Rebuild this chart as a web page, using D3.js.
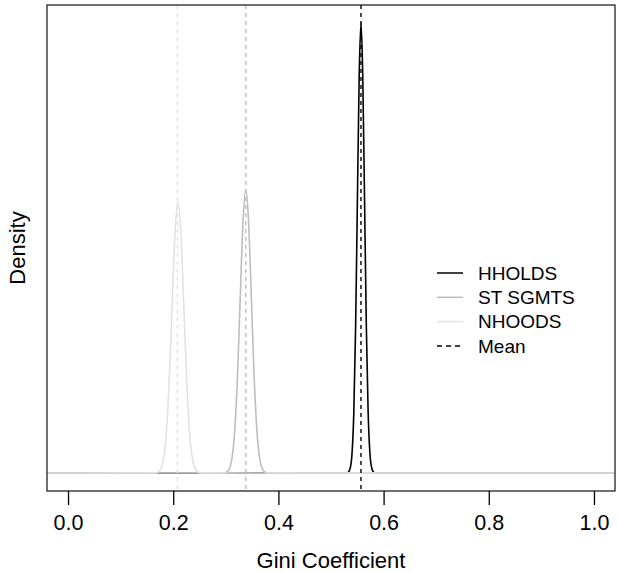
<!DOCTYPE html>
<html>
<head>
  <meta charset="utf-8">
  <title>Gini Coefficient Density</title>
  <script src="https://d3js.org/d3.v7.min.js"></script>
  <style>
    body { margin: 0; background: #fff; font-family: 'Liberation Sans', Arial, sans-serif; }
    .tick text { font-size: 21.5px; fill: #000; }
    .tick line { stroke: #000; }
    .lbl { font-size: 22px; fill: #000; }
    .leg { font-size: 19px; fill: #000; }
  </style>
</head>
<body>
  <div id="chart"></div>
  <script>
    // series (density estimates)
    var hholdsX = [0.5298, 0.5332, 0.5366, 0.5400, 0.5434, 0.5468, 0.5502, 0.5536, 0.5570,
                   0.5604, 0.5638, 0.5672, 0.5706, 0.5740, 0.5774, 0.5808, 0.5842];
    var hholdsY = [0.02, 0.13, 0.65, 2.57, 7.93, 19.03, 35.54, 51.71, 58.6,
                   51.71, 35.54, 19.03, 7.93, 2.57, 0.65, 0.13, 0.02];
    var stX = [0.2948, 0.3002, 0.3056, 0.3110, 0.3164, 0.3218, 0.3272, 0.3326, 0.3380,
               0.3434, 0.3488, 0.3542, 0.3596, 0.3650, 0.3704, 0.3758, 0.3812];
    var stY = [0.01, 0.08, 0.41, 1.62, 4.99, 11.98, 22.38, 32.56, 36.9,
               32.56, 22.38, 11.98, 4.99, 1.62, 0.41, 0.08, 0.01];
    var nhX = [0.1638, 0.1694, 0.1751, 0.1807, 0.1864, 0.1920, 0.1977, 0.2034, 0.2090,
               0.2147, 0.2203, 0.2260, 0.2316, 0.2373, 0.2429, 0.2486, 0.2542];
    var nhY = [0.01, 0.08, 0.39, 1.55, 4.78, 11.46, 21.41, 31.15, 35.3,
               31.15, 21.41, 11.46, 4.78, 1.55, 0.39, 0.08, 0.01];
    var seriesNames = ["HHOLDS", "ST SGMTS", "NHOODS"];
    var seriesMeans = [0.557, 0.338, 0.208];
    var seriesColors = ["#000000", "#bdbdbd", "#e2e2e2"];
    var xTicks = [0, 0.2, 0.4, 0.6, 0.8, 1.0];

    var W = 618, H = 573;
    var box = {left: 47, top: 5, right: 615, bottom: 491};

    var svg = d3.select("#chart").append("svg")
      .attr("width", W).attr("height", H);

    var x = d3.scaleLinear().domain([-0.04, 1.04]).range([box.left, box.right]);
    var yMax = d3.max(hholdsY);
    var y = d3.scaleLinear().domain([-0.04 * yMax, 1.04 * yMax]).range([box.bottom, box.top]);

    svg.append("clipPath").attr("id", "clip")
      .append("rect")
      .attr("x", box.left).attr("y", box.top)
      .attr("width", box.right - box.left).attr("height", box.bottom - box.top);

    var plot = svg.append("g").attr("clip-path", "url(#clip)");

    var line = d3.line()
      .x(d => x(d[0]))
      .y(d => y(d[1]))
      .curve(d3.curveMonotoneX);

    // pad each curve with zero density out past the plot edges
    function pts(xs, ys) {
      var p = [[-0.1, 0]];
      xs.forEach((v, i) => p.push([v, ys[i]]));
      p.push([1.1, 0]);
      return p;
    }
    var curves = [pts(hholdsX, hholdsY), pts(stX, stY), pts(nhX, nhY)];

    curves.forEach((c, i) => {
      plot.append("path")
        .datum(c)
        .attr("fill", "none")
        .attr("stroke", seriesColors[i])
        .attr("stroke-width", 1.6)
        .attr("d", line);
    });

    seriesMeans.forEach((m, i) => {
      plot.append("line")
        .attr("x1", x(m)).attr("x2", x(m))
        .attr("y1", box.top).attr("y2", box.bottom)
        .attr("stroke", seriesColors[i])
        .attr("stroke-width", 1.4)
        .attr("stroke-dasharray", "4,4");
    });

    svg.append("rect")
      .attr("x", box.left).attr("y", box.top)
      .attr("width", box.right - box.left).attr("height", box.bottom - box.top)
      .attr("fill", "none").attr("stroke", "#222").attr("stroke-width", 1.3);

    var xAxis = svg.append("g")
      .attr("transform", "translate(0," + box.bottom + ")")
      .call(d3.axisBottom(x).tickValues(xTicks).tickFormat(d3.format(".1f"))
        .tickSize(14).tickPadding(9.5));
    xAxis.select(".domain").remove();
    xAxis.selectAll(".tick line").attr("stroke-width", 1.3);

    svg.append("text").attr("class", "lbl")
      .attr("x", (box.left + box.right) / 2).attr("y", 568)
      .attr("text-anchor", "middle")
      .text("Gini Coefficient");

    svg.append("text").attr("class", "lbl")
      .attr("transform", "translate(25," + ((box.top + box.bottom) / 2) + ") rotate(-90)")
      .attr("text-anchor", "middle")
      .text("Density");

    // legend
    var legItems = seriesNames.map((n, i) => ({name: n, color: seriesColors[i], dash: null}))
      .concat([{name: "Mean", color: "#000000", dash: "5,4"}]);
    var leg = svg.append("g").attr("transform", "translate(437,273)");
    legItems.forEach((d, i) => {
      var g = leg.append("g").attr("transform", "translate(0," + (i * 24.3) + ")");
      g.append("line").attr("x1", 0).attr("x2", 26).attr("y1", 0).attr("y2", 0)
        .attr("stroke", d.color).attr("stroke-width", 1.5)
        .attr("stroke-dasharray", d.dash);
      g.append("text").attr("class", "leg")
        .attr("x", 41).attr("y", 0).attr("dy", "0.35em")
        .text(d.name);
    });
  </script>
</body>
</html>
